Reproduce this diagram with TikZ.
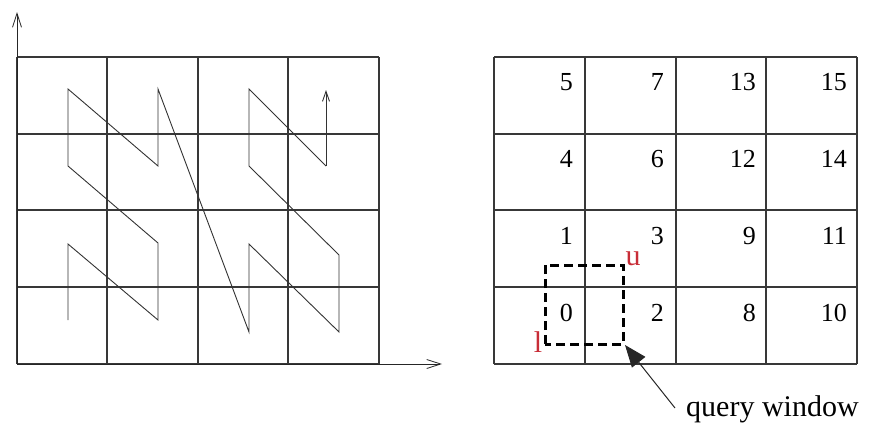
\documentclass[tikz,border=0pt]{standalone}
\usepackage{fontspec}
\setmainfont{Liberation Serif}
\usetikzlibrary{arrows.meta}
\definecolor{lblred}{RGB}{200,45,55}
\begin{document}
\begin{tikzpicture}[x=1pt,y=-1pt,
  gridline/.style={line width=2pt, draw=black!78},
  zline/.style={line width=0.9pt, draw=black!80, line join=miter},
  axisline/.style={line width=0.8pt, draw=black!85, -{Straight Barb[length=14pt,width=9pt,line width=0.8pt]}},
  num/.style={anchor=base east, inner sep=0pt, font=\fontsize{26}{30}\selectfont},
  redlbl/.style={anchor=base, inner sep=0pt, text=lblred, font=\fontsize{30}{34}\selectfont},
  qwin/.style={line width=3pt, draw=black, dash pattern=on 9pt off 5pt},
  pointer/.style={line width=1pt, draw=black!85, -{Triangle[length=22pt,width=17pt]}},
]
\useasboundingbox (0,0) rectangle (869,423);

% left grid
\foreach \x in {17,107,198,288,379} \draw[gridline] (\x,57) -- (\x,364);
\foreach \y in {57,134,210,287,364} \draw[gridline] (17,\y) -- (379,\y);

% axes
\coordinate (origin) at (17,364);
\coordinate (ytip) at (17,12);
\coordinate (xtip) at (442,364);
\draw[axisline] (origin) -- (ytip);
\draw[axisline] (origin) -- (xtip);

% Z-order curve
\coordinate (z0) at (68,320);
\coordinate (z1) at (68,244);
\coordinate (z2) at (158,320);
\coordinate (z3) at (158,243);
\coordinate (z4) at (68,166);
\coordinate (z5) at (68,89);
\coordinate (z6) at (158,166);
\coordinate (z7) at (158,89);
\coordinate (z8) at (249,332);
\coordinate (z9) at (249,244);
\coordinate (z10) at (339,332);
\coordinate (z11) at (339,255);
\coordinate (z12) at (249,166);
\coordinate (z13) at (249,89);
\coordinate (z14) at (326,166);
\coordinate (z15) at (326,90);
\draw[zline] (z0) -- (z1) -- (z2) -- (z3) -- (z4) -- (z5) -- (z6) -- (z7) -- (z8) -- (z9) -- (z10) -- (z11) -- (z12) -- (z13) -- (z14);
\draw[zline, -{Straight Barb[length=10pt,width=7pt,line width=0.9pt]}] (z14) -- (z15);

% right grid
\foreach \x in {494,585,676,766,857} \draw[gridline] (\x,57) -- (\x,364);
\foreach \y in {57,134,210,287,364} \draw[gridline] (494,\y) -- (857,\y);

% cell numbers
\node[num] (n5)  at (573,90) {5};
\node[num] (n7)  at (664,90) {7};
\node[num] (n13) at (756,90) {13};
\node[num] (n15) at (847,90) {15};
\node[num] (n4)  at (573,167) {4};
\node[num] (n6)  at (664,167) {6};
\node[num] (n12) at (756,167) {12};
\node[num] (n14) at (847,167) {14};
\node[num] (n1)  at (573,244) {1};
\node[num] (n3)  at (664,244) {3};
\node[num] (n9)  at (756,244) {9};
\node[num] (n11) at (847,244) {11};
\node[num] (n0)  at (573,321) {0};
\node[num] (n2)  at (664,321) {2};
\node[num] (n8)  at (756,321) {8};
\node[num] (n10) at (847,321) {10};

% query window
\coordinate (qll) at (545,344);
\coordinate (qur) at (623,265);
\coordinate (qlr) at (623,344);
\draw[qwin] (qll) rectangle (qur);
\node[redlbl] (lu) at (633,265) {u};
\node[redlbl] (ll) at (538,352) {l};

\node[anchor=base west, inner sep=0pt, font=\fontsize{30}{34}\selectfont] (qw) at (686,416) {query window};
\coordinate (qwtail) at (675,408);
\draw[pointer] (qwtail) -- ([shift={(2,1)}]qlr);
\end{tikzpicture}
\end{document}
